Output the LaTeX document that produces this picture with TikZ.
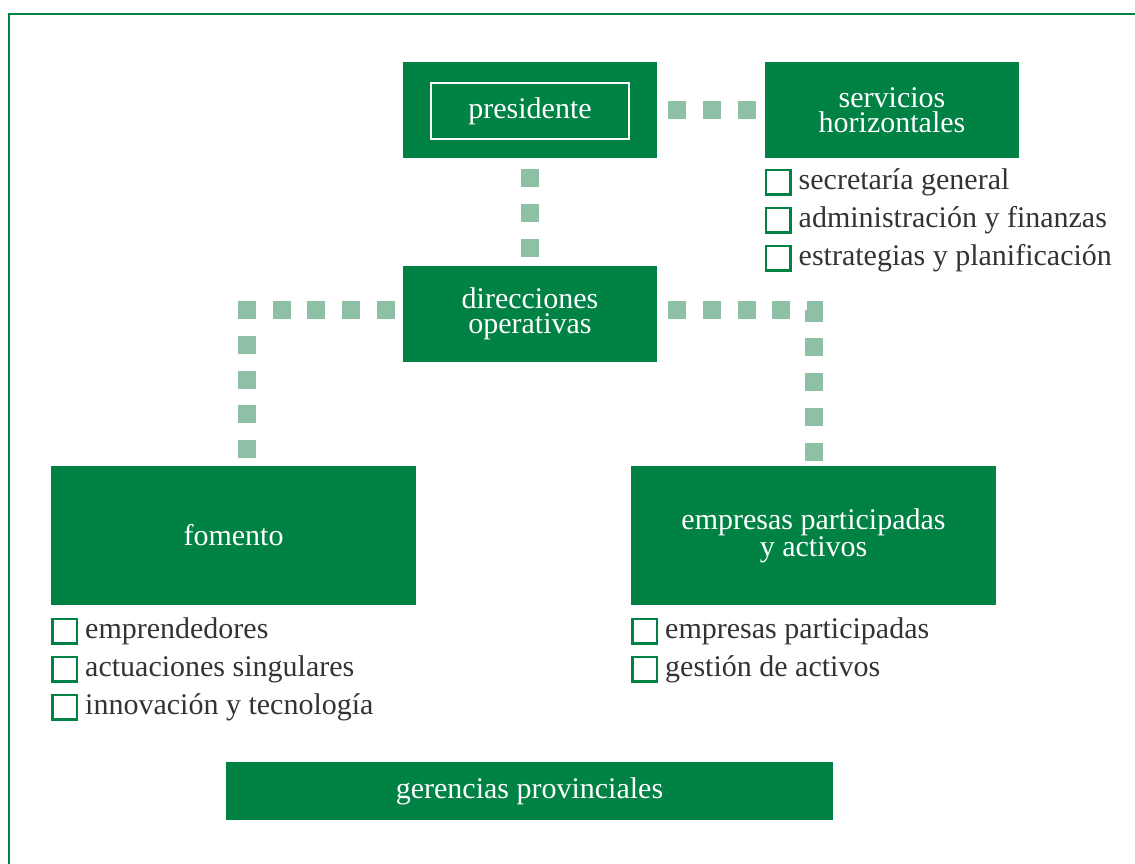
\documentclass[tikz,border=0pt]{standalone}
\usepackage{fontspec}
\setmainfont{Liberation Serif}
\usetikzlibrary{positioning}
\definecolor{orggreen}{RGB}{0,130,69}
\definecolor{dotgreen}{RGB}{142,192,165}
\definecolor{listgray}{RGB}{51,51,51}

\begin{document}
\begin{tikzpicture}[
    x=1pt, y=-1pt,
    unit/.style={fill=orggreen, text=white, inner sep=0pt, align=center, font=\fontsize{30}{25}\selectfont},
    chk/.style={draw=orggreen, line width=2.5pt, minimum size=24.5pt, inner sep=0pt},
    entry/.style={text=listgray, inner sep=0pt, text height=21pt, text depth=7pt, font=\fontsize{30}{25}\selectfont},
    link/.style={draw=dotgreen, line width=18pt, dash pattern=on 18pt off 16.75pt},
]
\useasboundingbox (0,0) rectangle (1135,863);
\draw[orggreen, line width=2.5pt] (1136,14) -- (9,14) -- (9,864);

% === top row ===
\node[unit, minimum width=254pt, minimum height=96pt] at (530,110) (pres) {};
\node[draw=white, line width=2pt, text=white, minimum width=198pt, minimum height=56pt, inner sep=0pt, font=\fontsize{30}{25}\selectfont] at (530,111) (pres-in) {presidente};
\node[unit, minimum width=254pt, minimum height=96pt] at (892,110) (serv) {servicios\\horizontales};

\node[chk] at (778,182) (s1) {};
\node[chk] at (778,220) (s2) {};
\node[chk] at (778,258) (s3) {};
\node[entry, right=7pt of s1] (s1-txt) {secretaría general};
\node[entry, right=7pt of s2] (s2-txt) {administración y finanzas};
\node[entry, right=7pt of s3] (s3-txt) {estrategias y planificación};

% === middle ===
\node[unit, minimum width=254pt, minimum height=96pt] at (530,314) (dir) {direcciones\\operativas};

% === operative areas ===
\node[unit, minimum width=365pt, minimum height=139pt] at (233.5,535.5) (fom) {fomento};
\node[unit, minimum width=365pt, minimum height=139pt] at (813.5,535.5) (emp) {empresas participadas\\y activos};

\node[chk] at (64.5,631) (f1) {};
\node[chk] at (64.5,669) (f2) {};
\node[chk] at (64.5,707) (f3) {};
\node[entry, right=7pt of f1] (f1-txt) {emprendedores};
\node[entry, right=7pt of f2] (f2-txt) {actuaciones singulares};
\node[entry, right=7pt of f3] (f3-txt) {innovación y tecnología};

\node[chk] at (644.5,631) (e1) {};
\node[chk] at (644.5,669) (e2) {};
\node[entry, right=7pt of e1] (e1-txt) {empresas participadas};
\node[entry, right=7pt of e2] (e2-txt) {gestión de activos};

\node[unit, minimum width=607pt, minimum height=58pt] at (529.5,791) (ger) {gerencias provinciales};

% dotted links
\draw[link] ([xshift=11pt]pres.east) -- (serv.west);
\draw[link] ([yshift=-11pt]pres.south) -- (dir.north);
\draw[link] ([shift={(-8pt,4pt)}]dir.west) -| ([xshift=13.5pt]fom.north);
\draw[link] ([shift={(11pt,4pt)}]dir.east) -| (emp.north);

\end{tikzpicture}
\end{document}
